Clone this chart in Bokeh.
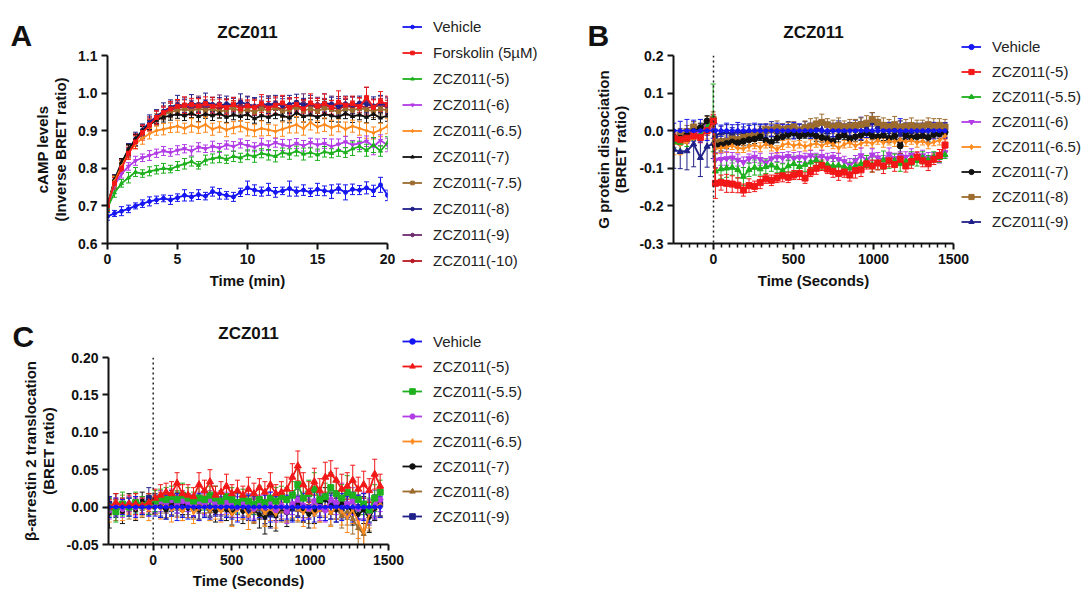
import numpy as np
from bokeh.plotting import figure
from bokeh.models import (ColumnDataSource, Whisker, TeeHead, Legend, LegendItem, Label, Span,
                          FixedTicker, NumeralTickFormatter, Range1d)
from bokeh.layouts import row, column
from bokeh.embed import file_html
from bokeh.resources import INLINE

FONT = "Liberation Sans"

# ---------------- Panel A : cAMP ----------------
TIME_A = [0, 0.5, 1, 1.5, 2, 2.5, 3, 3.5, 4, 4.5,
          5, 5.5, 6, 6.5, 7, 7.5, 8, 8.5, 9, 9.5,
          10, 10.5, 11, 11.5, 12, 12.5, 13, 13.5, 14, 14.5,
          15, 15.5, 16, 16.5, 17, 17.5, 18, 18.5, 19, 19.5,
          20]
NAMES_A = ["Vehicle", "Forskolin (5\u00b5M)", "ZCZ011(-5)", "ZCZ011(-6)", "ZCZ011(-6.5)",
           "ZCZ011(-7)", "ZCZ011(-7.5)", "ZCZ011(-8)", "ZCZ011(-9)", "ZCZ011(-10)"]
VEH_A = [0.672,0.680,0.686,0.692,0.700,0.706,0.712,0.716,0.720,0.716,
         0.722,0.728,0.724,0.730,0.726,0.738,0.732,0.728,0.724,0.736,
         0.748,0.742,0.738,0.744,0.736,0.740,0.746,0.738,0.742,0.736,
         0.744,0.740,0.738,0.746,0.736,0.744,0.742,0.748,0.740,0.756,
         0.728]
FSK_A = [0.700,0.760,0.800,0.840,0.870,0.895,0.915,0.935,0.948,0.958,
         0.965,0.968,0.970,0.966,0.972,0.965,0.968,0.962,0.970,0.958,
         0.966,0.962,0.972,0.960,0.968,0.974,0.962,0.970,0.958,0.974,
         0.966,0.972,0.962,0.976,0.968,0.972,0.964,0.988,0.962,0.978,
         0.970]
Z5_A = [0.695,0.735,0.760,0.775,0.790,0.786,0.792,0.796,0.800,0.798,
        0.806,0.812,0.818,0.808,0.822,0.826,0.830,0.824,0.832,0.828,
        0.836,0.832,0.840,0.836,0.832,0.842,0.838,0.846,0.838,0.842,
        0.836,0.844,0.840,0.848,0.842,0.852,0.858,0.848,0.862,0.846,
        0.868]
Z6_A = [0.700,0.755,0.785,0.805,0.820,0.828,0.834,0.840,0.846,0.842,
        0.848,0.852,0.846,0.856,0.852,0.858,0.854,0.862,0.858,0.866,
        0.860,0.856,0.864,0.860,0.868,0.862,0.858,0.866,0.860,0.868,
        0.862,0.866,0.858,0.864,0.870,0.862,0.866,0.872,0.858,0.874,
        0.862]
Z65_A = [0.700,0.765,0.805,0.840,0.865,0.880,0.892,0.900,0.904,0.908,
         0.912,0.906,0.914,0.908,0.916,0.904,0.910,0.902,0.908,0.912,
         0.904,0.900,0.906,0.902,0.898,0.904,0.910,0.916,0.906,0.922,
         0.910,0.916,0.908,0.914,0.904,0.912,0.906,0.900,0.894,0.902,
         0.912]
Z7_A = [0.700,0.770,0.815,0.850,0.878,0.900,0.916,0.928,0.936,0.940,
        0.944,0.940,0.946,0.938,0.944,0.940,0.946,0.936,0.942,0.938,
        0.944,0.932,0.940,0.936,0.944,0.940,0.934,0.948,0.938,0.942,
        0.936,0.944,0.940,0.936,0.946,0.938,0.942,0.936,0.944,0.934,
        0.940]
Z75_A = [0.700,0.765,0.808,0.845,0.872,0.896,0.914,0.930,0.942,0.950,
         0.954,0.958,0.952,0.960,0.954,0.958,0.950,0.956,0.960,0.952,
         0.956,0.950,0.958,0.954,0.960,0.952,0.956,0.962,0.954,0.958,
         0.952,0.960,0.956,0.950,0.958,0.954,0.960,0.956,0.952,0.958,
         0.954]
Z8_A = [0.700,0.768,0.812,0.850,0.878,0.902,0.922,0.938,0.952,0.962,
        0.970,0.966,0.974,0.968,0.976,0.970,0.966,0.972,0.968,0.976,
        0.970,0.964,0.972,0.968,0.974,0.966,0.970,0.976,0.968,0.972,
        0.966,0.974,0.970,0.964,0.972,0.968,0.974,0.970,0.966,0.974,
        0.968]
Z9_A = [0.698,0.762,0.806,0.846,0.874,0.898,0.918,0.934,0.946,0.956,
        0.962,0.968,0.962,0.970,0.964,0.968,0.972,0.964,0.968,0.962,
        0.970,0.966,0.962,0.970,0.966,0.972,0.964,0.968,0.974,0.966,
        0.970,0.964,0.972,0.968,0.962,0.970,0.966,0.980,0.964,0.970,
        0.966]
Z10_A = [0.702,0.766,0.810,0.848,0.876,0.900,0.920,0.936,0.948,0.956,
         0.960,0.964,0.958,0.966,0.960,0.964,0.958,0.966,0.962,0.968,
         0.960,0.964,0.958,0.966,0.962,0.958,0.966,0.960,0.964,0.968,
         0.960,0.966,0.962,0.958,0.966,0.962,0.968,0.960,0.964,0.968,
         0.962]
E_VEH_A = [0.010,0.008,0.012,0.010,0.008,0.010,0.012,0.010,0.009,0.012,
           0.010,0.015,0.011,0.013,0.010,0.012,0.014,0.010,0.012,0.011,
           0.018,0.014,0.012,0.016,0.013,0.010,0.020,0.012,0.014,0.011,
           0.016,0.013,0.018,0.012,0.020,0.014,0.012,0.016,0.015,0.020,
           0.014]
E_FSK_A = [0.012,0.015,0.014,0.016,0.018,0.020,0.016,0.018,0.015,0.020,
           0.018,0.022,0.016,0.020,0.018,0.024,0.016,0.020,0.018,0.022,
           0.016,0.020,0.024,0.018,0.022,0.020,0.026,0.018,0.022,0.024,
           0.020,0.026,0.018,0.030,0.022,0.020,0.024,0.028,0.020,0.026,
           0.022]
E_Z5_A = [0.010,0.012,0.010,0.014,0.012,0.010,0.012,0.011,0.013,0.010,
          0.012,0.014,0.012,0.010,0.013,0.012,0.015,0.011,0.014,0.012,
          0.013,0.016,0.012,0.014,0.015,0.012,0.014,0.013,0.016,0.012,
          0.015,0.014,0.012,0.016,0.013,0.018,0.014,0.016,0.020,0.014,
          0.016]
E_Z6_A = [0.010,0.012,0.011,0.010,0.012,0.010,0.013,0.011,0.012,0.010,
          0.012,0.011,0.013,0.012,0.010,0.014,0.012,0.011,0.013,0.012,
          0.014,0.012,0.016,0.013,0.012,0.015,0.018,0.013,0.014,0.012,
          0.016,0.013,0.020,0.014,0.015,0.012,0.016,0.014,0.022,0.015,
          0.018]
E_Z65_A = [0.012,0.014,0.012,0.015,0.013,0.016,0.014,0.012,0.015,0.013,
           0.016,0.014,0.018,0.015,0.020,0.016,0.014,0.018,0.016,0.015,
           0.018,0.016,0.020,0.015,0.017,0.019,0.016,0.022,0.018,0.020,
           0.016,0.018,0.020,0.017,0.019,0.016,0.018,0.020,0.016,0.018,
           0.020]
E_Z7_A = [0.010,0.012,0.011,0.013,0.012,0.011,0.012,0.010,0.013,0.012,
          0.011,0.013,0.012,0.014,0.011,0.013,0.012,0.014,0.013,0.012,
          0.014,0.012,0.013,0.015,0.012,0.014,0.013,0.012,0.015,0.013,
          0.014,0.012,0.015,0.013,0.014,0.016,0.013,0.015,0.014,0.013,
          0.015]
E_Z75_A = [0.012,0.014,0.013,0.015,0.014,0.016,0.014,0.015,0.013,0.016,
           0.014,0.015,0.017,0.014,0.016,0.015,0.017,0.014,0.016,0.015,
           0.017,0.015,0.016,0.018,0.015,0.017,0.016,0.018,0.015,0.017,
           0.016,0.018,0.015,0.017,0.016,0.019,0.016,0.018,0.017,0.016,
           0.018]
E_Z8_A = [0.012,0.015,0.014,0.016,0.018,0.016,0.020,0.018,0.022,0.020,
          0.024,0.018,0.022,0.020,0.024,0.019,0.022,0.020,0.018,0.022,
          0.020,0.024,0.018,0.022,0.020,0.019,0.024,0.021,0.018,0.022,
          0.020,0.024,0.019,0.022,0.020,0.023,0.018,0.021,0.024,0.020,
          0.022]
E_Z9_A = [0.012,0.014,0.015,0.016,0.015,0.018,0.016,0.019,0.017,0.020,
          0.018,0.021,0.019,0.022,0.018,0.020,0.023,0.019,0.021,0.018,
          0.022,0.020,0.019,0.023,0.021,0.019,0.022,0.020,0.024,0.021,
          0.019,0.022,0.020,0.023,0.021,0.019,0.022,0.035,0.020,0.022,
          0.021]
E_Z10_A = [0.012,0.014,0.013,0.015,0.016,0.015,0.017,0.016,0.018,0.017,
           0.016,0.018,0.017,0.019,0.016,0.018,0.017,0.019,0.018,0.016,
           0.019,0.017,0.018,0.020,0.017,0.019,0.018,0.016,0.019,0.018,
           0.020,0.017,0.019,0.018,0.020,0.017,0.019,0.018,0.020,0.018,
           0.019]

# ---------------- Panel B : G protein dissociation ----------------
TIME_B = [-248, -208, -166, -124, -82, -40, -2,
          12, 47, 82, 117, 152, 187, 222, 257, 292, 327,
          362, 397, 432, 467, 502, 537, 572, 607, 642, 677,
          712, 747, 782, 817, 852, 887, 922, 957, 992, 1027,
          1062, 1097, 1132, 1167, 1202, 1237, 1272, 1307, 1342, 1377,
          1412, 1447]
NAMES_BC = ["Vehicle", "ZCZ011(-5)", "ZCZ011(-5.5)", "ZCZ011(-6)", "ZCZ011(-6.5)",
            "ZCZ011(-7)", "ZCZ011(-8)", "ZCZ011(-9)"]
VEH_B = [0, 0, 0, 0, 0, 0, 0,
         0, 0, 0, 0, 0, 0, 0, 0, 0, 0,
         0, 0, 0, 0, 0, 0, 0, 0, 0, 0,
         0, 0, 0, 0, 0, 0, 0, 0, 0, 0,
         0, 0, 0, 0, 0, 0, 0, 0, 0, 0,
         0, 0]
Z5_B = [-0.020,-0.024,-0.020,-0.014,-0.018,0.000,0.026,
        -0.140,-0.138,-0.140,-0.142,-0.145,-0.158,-0.146,-0.148,-0.138,-0.128,
        -0.132,-0.126,-0.120,-0.124,-0.118,-0.114,-0.126,-0.110,-0.100,-0.092,
        -0.102,-0.108,-0.114,-0.110,-0.118,-0.106,-0.104,-0.088,-0.094,-0.086,
        -0.094,-0.080,-0.090,-0.076,-0.094,-0.082,-0.070,-0.080,-0.088,-0.076,
        -0.066,-0.038]
Z55_B = [-0.030,-0.032,-0.024,-0.012,-0.010,0.008,0.034,
         -0.108,-0.102,-0.100,-0.098,-0.104,-0.122,-0.104,-0.098,-0.102,-0.096,
         -0.092,-0.098,-0.106,-0.094,-0.088,-0.096,-0.090,-0.084,-0.078,-0.086,
         -0.090,-0.094,-0.092,-0.096,-0.100,-0.094,-0.088,-0.082,-0.090,-0.086,
         -0.078,-0.084,-0.080,-0.088,-0.082,-0.074,-0.080,-0.072,-0.078,-0.070,
         -0.072,-0.064]
Z6_B = [-0.030,-0.022,-0.020,-0.010,-0.004,0.010,0.024,
        -0.078,-0.076,-0.074,-0.072,-0.078,-0.084,-0.074,-0.070,-0.076,-0.086,
        -0.074,-0.070,-0.072,-0.068,-0.074,-0.070,-0.072,-0.066,-0.072,-0.068,
        -0.074,-0.070,-0.076,-0.082,-0.092,-0.080,-0.066,-0.078,-0.064,-0.072,
        -0.078,-0.062,-0.074,-0.068,-0.070,-0.064,-0.070,-0.066,-0.074,-0.070,
        -0.072,-0.058]
Z65_B = [-0.034,-0.036,-0.030,-0.020,-0.012,0.000,0.020,
         -0.048,-0.046,-0.044,-0.040,-0.046,-0.048,-0.042,-0.038,-0.044,-0.036,
         -0.042,-0.050,-0.038,-0.034,-0.040,-0.036,-0.042,-0.038,-0.034,-0.040,
         -0.032,-0.036,-0.046,-0.036,-0.032,-0.040,-0.034,-0.030,-0.034,-0.026,
         -0.032,-0.028,-0.030,-0.024,-0.030,-0.026,-0.032,-0.028,-0.036,-0.030,
         -0.026,-0.014]
Z7_B = [-0.022,-0.020,-0.012,-0.002,0.008,0.026,0.022,
        -0.040,-0.038,-0.034,-0.030,-0.032,-0.028,-0.024,-0.022,-0.016,-0.026,
        -0.030,-0.020,-0.016,-0.010,-0.006,-0.014,-0.010,-0.008,-0.014,-0.018,
        -0.022,-0.028,-0.016,-0.012,-0.022,-0.016,-0.012,-0.006,-0.014,-0.016,
        -0.012,-0.020,-0.014,-0.040,-0.012,-0.018,-0.016,-0.014,-0.018,-0.010,
        -0.008,-0.004]
Z8_B = [-0.020,-0.012,-0.002,0.010,0.002,0.020,0.030,
        -0.032,-0.030,-0.028,-0.022,-0.024,-0.018,-0.016,-0.010,-0.004,0.004,
        0.002,0.008,0.004,0.006,0.010,0.002,0.008,0.012,0.018,0.022,
        0.016,0.010,0.014,0.010,0.012,0.014,0.016,0.020,0.030,0.022,
        0.014,0.012,0.016,0.010,0.012,0.014,0.010,0.012,0.016,0.012,
        0.014,0.010]
Z9_B = [-0.050,-0.056,-0.054,-0.036,-0.072,-0.042,-0.034,
        -0.012,-0.006,-0.004,-0.008,-0.002,-0.006,0.000,-0.004,0.002,-0.002,
        0.004,-0.002,0.000,0.004,0.002,-0.002,0.004,0.000,0.006,0.002,
        -0.004,0.002,0.006,0.000,0.004,0.008,0.014,0.006,0.022,0.010,
        0.004,0.002,0.006,-0.010,0.002,-0.002,0.004,0.000,0.002,0.006,
        0.004,0.002]
E_VEH_B = [0.020,0.025,0.030,0.028,0.030,0.026,0.020,
           0.018,0.015,0.020,0.016,0.022,0.018,0.014,0.020,0.016,0.018,
           0.015,0.020,0.017,0.016,0.022,0.018,0.015,0.020,0.016,0.018,
           0.020,0.016,0.022,0.018,0.015,0.020,0.024,0.018,0.016,0.020,
           0.018,0.022,0.016,0.032,0.020,0.018,0.016,0.020,0.018,0.022,
           0.016,0.020]
E_Z5_B = [0.012,0.014,0.012,0.010,0.014,0.012,0.016,
          0.040,0.020,0.024,0.022,0.020,0.016,0.018,0.014,0.016,0.012,
          0.014,0.012,0.016,0.014,0.012,0.016,0.014,0.012,0.016,0.014,
          0.012,0.016,0.018,0.014,0.016,0.020,0.018,0.014,0.016,0.018,
          0.020,0.016,0.018,0.014,0.016,0.018,0.014,0.016,0.018,0.014,
          0.016,0.018]
E_Z55_B = [0.016,0.020,0.018,0.014,0.016,0.020,0.090,
           0.030,0.026,0.024,0.020,0.022,0.024,0.018,0.020,0.016,0.018,
           0.016,0.014,0.018,0.016,0.020,0.014,0.018,0.016,0.014,0.018,
           0.016,0.020,0.014,0.018,0.016,0.020,0.018,0.016,0.020,0.018,
           0.024,0.016,0.018,0.020,0.016,0.018,0.014,0.016,0.012,0.014,
           0.012,0.010]
E_Z6_B = [0.014,0.016,0.014,0.012,0.014,0.016,0.018,
          0.020,0.016,0.018,0.014,0.016,0.014,0.012,0.014,0.016,0.012,
          0.014,0.012,0.014,0.012,0.016,0.014,0.012,0.014,0.012,0.016,
          0.014,0.012,0.016,0.014,0.018,0.014,0.020,0.012,0.016,0.014,
          0.012,0.016,0.014,0.012,0.014,0.016,0.012,0.014,0.016,0.012,
          0.014,0.012]
E_Z65_B = [0.030,0.028,0.026,0.020,0.018,0.022,0.024,
           0.014,0.012,0.014,0.010,0.012,0.010,0.012,0.010,0.012,0.010,
           0.012,0.010,0.012,0.010,0.012,0.010,0.012,0.014,0.010,0.012,
           0.010,0.012,0.014,0.010,0.012,0.010,0.012,0.010,0.012,0.010,
           0.012,0.010,0.012,0.010,0.012,0.010,0.012,0.010,0.012,0.010,
           0.012,0.010]
E_Z7_B = [0.012,0.010,0.012,0.010,0.012,0.014,0.012,
          0.020,0.016,0.014,0.012,0.014,0.012,0.014,0.012,0.010,0.012,
          0.014,0.012,0.010,0.012,0.014,0.012,0.010,0.012,0.014,0.012,
          0.010,0.012,0.014,0.012,0.010,0.012,0.014,0.012,0.010,0.012,
          0.014,0.012,0.010,0.020,0.012,0.010,0.012,0.014,0.012,0.010,
          0.012,0.010]
E_Z8_B = [0.016,0.018,0.016,0.014,0.016,0.018,0.020,
          0.014,0.016,0.014,0.012,0.014,0.016,0.012,0.014,0.016,0.014,
          0.016,0.018,0.014,0.016,0.014,0.016,0.018,0.020,0.016,0.022,
          0.016,0.018,0.020,0.016,0.018,0.016,0.018,0.020,0.018,0.016,
          0.020,0.018,0.022,0.016,0.018,0.020,0.018,0.016,0.018,0.020,
          0.018,0.020]
E_Z9_B = [0.050,0.045,0.050,0.060,0.050,0.055,0.040,
          0.016,0.018,0.020,0.016,0.018,0.016,0.018,0.020,0.016,0.018,
          0.020,0.016,0.018,0.020,0.016,0.018,0.020,0.016,0.018,0.020,
          0.016,0.018,0.020,0.016,0.018,0.020,0.022,0.018,0.026,0.020,
          0.018,0.020,0.016,0.036,0.018,0.020,0.016,0.018,0.020,0.016,
          0.018,0.020]

# ---------------- Panel C : beta-arrestin 2 translocation ----------------
TIME_C = [-280, -238, -196, -154, -112, -70, -28,
          12, 47, 82, 117, 152, 187, 222, 257, 292, 327,
          362, 397, 432, 467, 502, 537, 572, 607, 642, 677,
          712, 747, 782, 817, 852, 887, 922, 957, 992, 1027,
          1062, 1097, 1132, 1167, 1202, 1237, 1272, 1307, 1342, 1377,
          1412, 1447]
VEH_C = [0, 0, 0, 0, 0, 0, 0,
         0, 0, 0, 0, 0, 0, 0, 0, 0, 0,
         0, 0, 0, 0, 0, 0, 0, 0, 0, 0,
         0, 0, 0, 0, 0, 0, 0, 0, 0, 0,
         0, 0, 0, 0, 0, 0, 0, 0, 0, 0,
         0, 0]
Z5_C = [0.000,0.006,0.002,0.004,0.004,0.002,0.006,
        0.012,0.016,0.020,0.018,0.032,0.018,0.016,0.014,0.030,0.022,
        0.034,0.016,0.020,0.028,0.018,0.022,0.016,0.024,0.018,0.026,
        0.020,0.030,0.018,0.020,0.024,0.040,0.055,0.030,0.020,0.034,
        0.022,0.040,0.044,0.036,0.024,0.028,0.036,0.024,0.030,0.022,
        0.044,0.028]
Z55_C = [0.000,-0.006,0.004,0.000,0.006,0.002,0.004,
         0.008,0.012,0.010,0.014,0.010,0.016,0.012,0.008,0.012,0.010,
         0.016,0.012,0.008,0.014,0.010,0.006,0.012,0.008,0.004,0.010,
         0.006,0.012,0.008,0.014,0.010,0.016,0.030,0.012,0.018,0.024,
         0.010,0.014,0.026,0.018,0.012,0.020,0.016,0.010,0.004,-0.004,
         0.012,0.020]
Z6_C = [-0.004,0.002,-0.002,0.004,0.000,0.002,0.000,
        0.004,0.008,0.006,0.010,0.004,0.008,0.006,0.002,0.008,0.004,
        0.010,0.006,0.002,0.006,0.004,0.000,0.006,0.002,-0.002,0.004,
        0.000,0.006,-0.004,0.002,-0.006,0.004,0.010,0.002,-0.002,0.008,
        0.000,-0.004,0.010,0.006,0.012,0.004,0.008,-0.002,0.002,-0.006,
        0.004,0.010]
Z65_C = [-0.006,0.000,-0.004,0.002,-0.002,0.000,-0.004,
         0.002,-0.002,0.004,-0.004,0.000,-0.006,0.002,-0.008,-0.002,0.004,
         -0.004,0.000,-0.006,0.002,-0.010,-0.004,0.000,-0.012,-0.004,0.002,
         -0.008,-0.002,-0.010,0.000,-0.006,0.004,-0.002,-0.008,0.002,-0.010,
         -0.004,0.002,-0.008,0.000,-0.006,-0.014,-0.004,-0.020,-0.034,-0.010,
         0.000,0.004]
Z7_C = [-0.008,0.004,-0.006,0.006,-0.004,0.008,0.004,
        0.004,0.000,-0.004,0.002,0.008,0.004,-0.002,0.002,-0.004,0.006,
        0.000,-0.006,0.002,-0.004,-0.008,0.000,-0.006,0.002,-0.004,-0.010,
        -0.014,-0.008,-0.012,-0.002,-0.008,0.000,0.006,-0.004,-0.010,-0.006,
        0.004,0.010,0.002,-0.004,0.006,0.000,-0.006,-0.010,-0.004,-0.014,
        -0.002,0.006]
Z8_C = [0.002,-0.004,0.004,-0.002,0.006,0.000,0.004,
        0.002,0.006,-0.002,0.004,0.000,-0.004,0.002,-0.002,0.004,0.000,
        -0.006,0.002,-0.004,0.000,-0.002,0.004,-0.004,0.000,-0.006,-0.002,
        -0.008,-0.004,0.002,-0.006,-0.002,0.004,-0.004,0.000,-0.006,0.002,
        -0.004,0.000,-0.008,-0.002,-0.012,-0.006,-0.016,-0.028,-0.036,-0.012,
        -0.002,0.004]
Z9_C = [0.004,-0.002,0.002,0.000,0.004,0.002,0.012,
        0.006,0.002,0.004,0.008,0.004,0.002,0.006,0.000,0.004,0.002,
        -0.002,0.004,0.000,0.002,-0.002,0.004,0.000,-0.004,0.002,-0.002,
        -0.006,-0.010,-0.004,0.000,-0.006,-0.002,0.002,-0.004,0.000,-0.006,
        0.002,-0.002,0.004,0.000,-0.002,0.002,-0.004,0.000,-0.002,-0.008,
        0.002,0.004]
E_VEH_C = [0.014,0.012,0.010,0.012,0.014,0.010,0.012,
           0.012,0.014,0.016,0.012,0.018,0.014,0.016,0.012,0.018,0.014,
           0.016,0.012,0.018,0.014,0.016,0.020,0.014,0.016,0.018,0.014,
           0.016,0.020,0.014,0.018,0.016,0.020,0.014,0.018,0.016,0.020,
           0.014,0.018,0.016,0.020,0.018,0.014,0.020,0.016,0.018,0.020,
           0.016,0.014]
E_Z5_C = [0.010,0.012,0.010,0.012,0.014,0.010,0.012,
          0.012,0.014,0.012,0.016,0.014,0.012,0.014,0.012,0.016,0.014,
          0.016,0.012,0.014,0.016,0.012,0.014,0.012,0.016,0.014,0.012,
          0.014,0.016,0.012,0.014,0.016,0.018,0.020,0.016,0.014,0.018,
          0.016,0.020,0.018,0.016,0.020,0.018,0.020,0.016,0.018,0.016,
          0.020,0.016]
E_Z55_C = [0.012,0.014,0.016,0.012,0.014,0.012,0.014,
           0.014,0.012,0.016,0.014,0.012,0.016,0.014,0.012,0.016,0.014,
           0.012,0.016,0.014,0.012,0.016,0.014,0.012,0.016,0.014,0.018,
           0.014,0.016,0.018,0.014,0.016,0.018,0.020,0.016,0.018,0.022,
           0.016,0.018,0.020,0.016,0.018,0.022,0.018,0.016,0.014,0.016,
           0.018,0.016]
E_Z6_C = [0.012,0.010,0.012,0.010,0.012,0.010,0.012,
          0.012,0.014,0.012,0.014,0.012,0.014,0.012,0.014,0.012,0.014,
          0.012,0.014,0.012,0.014,0.016,0.014,0.012,0.016,0.014,0.012,
          0.016,0.014,0.016,0.014,0.016,0.014,0.016,0.018,0.014,0.016,
          0.018,0.016,0.018,0.016,0.020,0.016,0.018,0.016,0.018,0.016,
          0.018,0.016]
E_Z65_C = [0.014,0.012,0.014,0.012,0.014,0.012,0.014,
           0.012,0.014,0.012,0.016,0.014,0.012,0.016,0.014,0.016,0.012,
           0.014,0.016,0.014,0.012,0.016,0.014,0.016,0.018,0.016,0.014,
           0.018,0.016,0.018,0.016,0.014,0.018,0.016,0.018,0.016,0.018,
           0.016,0.014,0.018,0.016,0.018,0.020,0.018,0.022,0.024,0.018,
           0.016,0.018]
E_Z7_C = [0.020,0.014,0.016,0.012,0.014,0.012,0.014,
          0.012,0.014,0.012,0.014,0.012,0.014,0.012,0.014,0.012,0.014,
          0.012,0.014,0.012,0.014,0.016,0.014,0.016,0.014,0.016,0.018,
          0.022,0.018,0.020,0.016,0.018,0.016,0.018,0.016,0.018,0.016,
          0.018,0.016,0.018,0.016,0.018,0.016,0.018,0.020,0.018,0.020,
          0.016,0.018]
E_Z8_C = [0.012,0.014,0.012,0.014,0.012,0.014,0.012,
          0.012,0.014,0.012,0.014,0.012,0.014,0.012,0.014,0.012,0.014,
          0.012,0.014,0.012,0.014,0.012,0.014,0.012,0.014,0.016,0.014,
          0.016,0.014,0.016,0.014,0.016,0.014,0.016,0.014,0.016,0.014,
          0.016,0.014,0.016,0.014,0.016,0.018,0.020,0.024,0.026,0.020,
          0.016,0.018]
E_Z9_C = [0.010,0.012,0.010,0.012,0.010,0.012,0.014,
          0.012,0.014,0.012,0.014,0.012,0.014,0.012,0.014,0.012,0.014,
          0.012,0.014,0.012,0.014,0.012,0.014,0.012,0.014,0.012,0.014,
          0.016,0.018,0.014,0.016,0.014,0.016,0.014,0.016,0.014,0.016,
          0.014,0.016,0.014,0.016,0.014,0.016,0.014,0.016,0.014,0.016,
          0.014,0.016]

# ---------------- styles ----------------
BLUE, RED, GREEN, PURPLE = "#1616F2", "#F21818", "#1EB01E", "#B23CE6"
ORANGE, BLACK, BROWN, NAVY = "#FF8A1E", "#111111", "#9C6B2E", "#20208A"
DPURPLE, DRED = "#6E2A6E", "#B81620"

COL_A = [BLUE, RED, GREEN, PURPLE, ORANGE, BLACK, BROWN, NAVY, DPURPLE, DRED]
MK_A = ["circle", "square", "triangle", "inverted_triangle", "diamond",
        "triangle", "square", "circle", "circle", "circle"]
SZ_A = [4, 4, 4, 4, 4, 4, 4, 4, 4, 4]
COL_BC = [BLUE, RED, GREEN, PURPLE, ORANGE, BLACK, BROWN, NAVY]
MK_B = ["circle", "square", "triangle", "inverted_triangle", "diamond", "circle", "square", "triangle"]
SZ_B = [4, 6, 6, 6, 5, 6, 6, 6]
MK_C = ["circle", "triangle", "square", "hex", "diamond", "circle", "triangle", "square"]
SZ_C = [4, 7, 6, 6, 4, 4, 5, 5]
LW = 1.8


def make_fig(xr, yr, fb_left, fb_right, fb_top, fb_bottom, fw, fh):
    p = figure(x_range=Range1d(*xr), y_range=Range1d(*yr), frame_width=fw, frame_height=fh,
               min_border_left=fb_left, min_border_right=fb_right,
               min_border_top=fb_top, min_border_bottom=fb_bottom,
               output_backend="svg", toolbar_location=None)
    p.outline_line_color = None
    p.xgrid.visible = False
    p.ygrid.visible = False
    for ax in p.axis:
        ax.axis_line_width = 2
        ax.axis_line_color = "#111111"
        ax.major_tick_line_width = 2
        ax.major_tick_line_color = "#111111"
        ax.major_tick_in = 0
        ax.major_tick_out = 6
        ax.minor_tick_in = 0
        ax.minor_tick_out = 4
        ax.minor_tick_line_width = 1.5
        ax.minor_tick_line_color = "#111111"
        ax.major_label_text_font = FONT
        ax.major_label_text_font_style = "bold"
        ax.major_label_text_font_size = "14px"
        ax.major_label_text_color = "#111111"
        ax.axis_label_text_font = FONT
        ax.axis_label_text_font_style = "bold"
        ax.axis_label_text_font_size = "15px"
        ax.axis_label_text_color = "#111111"
        ax.axis_label_text_line_height = 1.05
        ax.major_label_standoff = 4
    p.yaxis.minor_tick_line_color = None
    return p


def draw_series(p, x, ys, errs, cols, mks, szs):
    for i in reversed(range(len(ys))):
        y = np.array(ys[i], dtype=float)
        e = np.array(errs[i], dtype=float)
        src = ColumnDataSource(dict(x=x, y=y, lo=y - e, hi=y + e))
        w = Whisker(source=src, base="x", lower="lo", upper="hi", dimension="height",
                    line_color=cols[i], line_width=1,
                    upper_head=TeeHead(size=5, line_color=cols[i], line_width=1),
                    lower_head=TeeHead(size=5, line_color=cols[i], line_width=1))
        p.add_layout(w)
        p.line("x", "y", source=src, line_color=cols[i], line_width=LW)
        p.scatter("x", "y", source=src, marker=mks[i], size=szs[i],
                  fill_color=cols[i], line_color=cols[i])


# ---- Panel A ----
pA = make_fig((0, 20), (0.6, 1.1), 107, 165, 55, 57, 280, 188)
pA.xaxis.ticker = FixedTicker(ticks=[0, 5, 10, 15, 20])
pA.xaxis.minor_tick_line_color = None
pA.yaxis.ticker = FixedTicker(ticks=[0.6, 0.7, 0.8, 0.9, 1.0, 1.1])
pA.yaxis.formatter = NumeralTickFormatter(format="0.0")
pA.xaxis.axis_label = "Time (min)"
pA.yaxis.axis_label = "cAMP levels\n(Inverse BRET ratio)"
pA.xaxis.axis_label_standoff = 5
pA.yaxis.axis_label_standoff = 6
draw_series(pA, TIME_A,
            [VEH_A, FSK_A, Z5_A, Z6_A, Z65_A, Z7_A, Z75_A, Z8_A, Z9_A, Z10_A],
            [E_VEH_A, E_FSK_A, E_Z5_A, E_Z6_A, E_Z65_A, E_Z7_A, E_Z75_A, E_Z8_A, E_Z9_A, E_Z10_A],
            COL_A, MK_A, SZ_A)

# ---- Panel B ----
pB = make_fig((-250, 1500), (-0.3, 0.2), 121, 20, 55, 57, 280, 188)
pB.xaxis.ticker = FixedTicker(ticks=[0, 500, 1000, 1500],
                              minor_ticks=[-200, -150, -100, -50, 50, 100, 150, 200, 250, 300, 350, 400, 450,
                                           550, 600, 650, 700, 750, 800, 850, 900, 950,
                                           1050, 1100, 1150, 1200, 1250, 1300, 1350, 1400, 1450])
pB.yaxis.ticker = FixedTicker(ticks=[-0.3, -0.2, -0.1, 0.0, 0.1, 0.2])
pB.yaxis.formatter = NumeralTickFormatter(format="0.0")
pB.xaxis.axis_label = "Time (Seconds)"
pB.yaxis.axis_label = "G protein dissociation\n(BRET ratio)"
pB.xaxis.axis_label_standoff = 5
pB.yaxis.axis_label_standoff = 7
pB.add_layout(Span(location=0, dimension="height", line_color="#222222", line_width=1.5, line_dash="2 3"))
draw_series(pB, TIME_B,
            [VEH_B, Z5_B, Z55_B, Z6_B, Z65_B, Z7_B, Z8_B, Z9_B],
            [E_VEH_B, E_Z5_B, E_Z55_B, E_Z6_B, E_Z65_B, E_Z7_B, E_Z8_B, E_Z9_B],
            COL_BC, MK_B, SZ_B)

# ---- Panel C ----
pC = make_fig((-285, 1500), (-0.05, 0.20), 108, 20, 57, 48, 280, 187)
pC.xaxis.ticker = FixedTicker(ticks=[0, 500, 1000, 1500],
                              minor_ticks=[-250, -200, -150, -100, -50, 50, 100, 150, 200, 250, 300, 350, 400, 450,
                                           550, 600, 650, 700, 750, 800, 850, 900, 950,
                                           1050, 1100, 1150, 1200, 1250, 1300, 1350, 1400, 1450])
pC.yaxis.ticker = FixedTicker(ticks=[-0.05, 0.0, 0.05, 0.10, 0.15, 0.20])
pC.yaxis.formatter = NumeralTickFormatter(format="0.00")
pC.xaxis.axis_label = "Time (Seconds)"
pC.yaxis.axis_label = "\u03b2-arrestin 2 translocation\n(BRET ratio)"
pC.xaxis.axis_label_standoff = 4
pC.yaxis.axis_label_standoff = 7
pC.add_layout(Span(location=0, dimension="height", line_color="#222222", line_width=1.5, line_dash="2 3"))
draw_series(pC, TIME_C,
            [VEH_C, Z5_C, Z55_C, Z6_C, Z65_C, Z7_C, Z8_C, Z9_C],
            [E_VEH_C, E_Z5_C, E_Z55_C, E_Z6_C, E_Z65_C, E_Z7_C, E_Z8_C, E_Z9_C],
            COL_BC, MK_C, SZ_C)

# ---- transparent overlay (pixel coordinates) for panel letters, titles and legends ----
OW, OH = 1086, 592
ov = figure(x_range=Range1d(0, OW), y_range=Range1d(OH, 0), width=OW, height=OH,
            x_axis_location=None, y_axis_location=None, title_location=None,
            output_backend="svg", toolbar_location=None, min_border=0)
ov.min_border_left = ov.min_border_right = ov.min_border_top = ov.min_border_bottom = 0
ov.outline_line_color = None
ov.background_fill_alpha = 0
ov.border_fill_alpha = 0
ov.xgrid.visible = False
ov.ygrid.visible = False

NAN = float("nan")


def add_text(x, y, text, size, align):
    ov.add_layout(Label(x=x, y=y, text=text, text_font=FONT, text_font_style="bold",
                        text_font_size=size, text_align=align, text_baseline="alphabetic",
                        text_color="#111111"))


def add_legend(names, cols, mks, szs, left, top, lh, gh, sp):
    items = []
    for i in range(len(names)):
        l = ov.line(x=[NAN], y=[NAN], line_color=cols[i], line_width=LW)
        s = ov.scatter(x=[NAN], y=[NAN], marker=mks[i], size=szs[i], fill_color=cols[i], line_color=cols[i])
        items.append(LegendItem(label=names[i], renderers=[l, s]))
    h = len(names) * lh + (len(names) - 1) * sp
    leg = Legend(items=items, location=(left, OH - top - h), padding=0, margin=0, spacing=sp,
                 label_height=lh, glyph_height=gh, glyph_width=20, label_standoff=11,
                 label_text_font=FONT, label_text_font_size="15px", label_text_color="#222222",
                 border_line_color=None, background_fill_alpha=0)
    ov.add_layout(leg)


add_text(10, 35, "A", "30px", "left")
add_text(247, 32, "ZCZ011", "17px", "center")
add_text(587, 35, "B", "30px", "left")
add_text(813, 32, "ZCZ011", "17px", "center")
add_text(12, 336, "C", "30px", "left")
add_text(248, 333, "ZCZ011", "17px", "center")

add_legend(NAMES_A, COL_A, MK_A, SZ_A, 402, 15, 22, 9, 4)
add_legend(NAMES_BC, COL_BC, MK_B, SZ_B, 961, 35, 22, 13, 3)
add_legend(NAMES_BC, COL_BC, MK_C, SZ_C, 402, 330, 22, 14, 3)

layout = column(row(pA, pB), row(pC), row(ov, margin=(-OH, 0, 0, 0)))
open("out.html", "w").write(file_html(layout, INLINE))
